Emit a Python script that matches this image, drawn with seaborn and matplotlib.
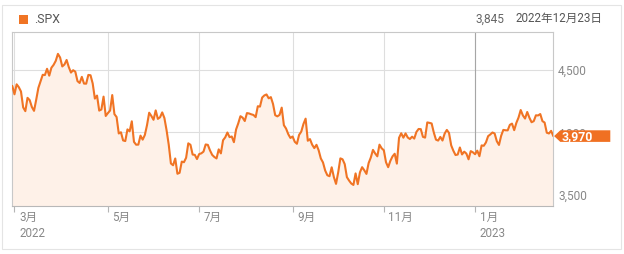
import matplotlib
matplotlib.use("Agg")
import matplotlib.pyplot as plt
import seaborn as sns
import pandas as pd
import numpy as np
from matplotlib.patches import Polygon, Rectangle
from matplotlib.transforms import IdentityTransform

# ---------------- data ----------------
ticker = ".SPX"
hover_value = "3,845"
hover_date = "2022年12月23日"
holidays = ["2022-04-15", "2022-05-30", "2022-06-20", "2022-07-04", "2022-09-05",
            "2022-11-24", "2022-12-26", "2023-01-02", "2023-01-16", "2023-02-20"]
start_date, end_date = "2022-02-28", "2023-02-24"

close_feb22 = [4373.94]
close_mar22 = [4306.26, 4386.54, 4363.49, 4328.87, 4201.09, 4170.70, 4277.88, 4259.52, 4204.31,
               4173.11, 4262.45, 4357.86, 4411.67, 4463.12, 4461.18, 4511.61, 4456.24, 4520.16,
               4543.06, 4575.52, 4631.60, 4602.45, 4530.41]
close_apr22 = [4545.86, 4582.64, 4525.12, 4481.15, 4500.21, 4488.28, 4412.53, 4397.45, 4446.59,
               4392.59, 4391.69, 4462.21, 4459.45, 4393.66, 4271.78, 4296.12, 4175.20, 4183.96,
               4287.50, 4131.93]
close_may22 = [4155.38, 4175.48, 4300.17, 4146.87, 4123.34, 3991.24, 4001.05, 3935.18, 3930.08,
               4023.89, 4008.01, 4088.85, 3923.68, 3900.79, 3901.36, 3973.75, 3941.48, 3978.73,
               4057.84, 4158.24, 4132.15]
close_jun22 = [4101.23, 4176.82, 4108.54, 4121.43, 4160.68, 4115.77, 4017.82, 3900.86, 3749.63,
               3735.48, 3789.99, 3666.77, 3674.84, 3764.79, 3759.89, 3795.73, 3911.74, 3900.11,
               3821.55, 3818.83, 3785.38]
close_jul22 = [3825.33, 3831.39, 3845.08, 3902.62, 3899.38, 3854.43, 3818.80, 3801.78, 3790.38,
               3863.16, 3830.85, 3936.69, 3959.90, 3998.95, 3961.63, 3966.84, 3921.05, 4023.61,
               4072.43, 4130.29]
close_aug22 = [4118.63, 4091.19, 4155.17, 4151.94, 4145.19, 4140.06, 4122.47, 4210.24, 4207.27,
               4280.15, 4297.14, 4305.20, 4274.04, 4283.74, 4228.48, 4137.99, 4128.73, 4140.77,
               4199.12, 4057.66, 4030.61, 3986.16, 3955.00]
close_sep22 = [3966.85, 3924.26, 3908.19, 3979.87, 4006.18, 4067.36, 4110.41, 3932.69, 3946.01,
               3901.35, 3873.33, 3899.89, 3855.93, 3789.93, 3757.99, 3693.23, 3655.04, 3647.29,
               3719.04, 3640.47, 3585.62]
close_oct22 = [3678.43, 3790.93, 3783.28, 3744.52, 3639.66, 3612.39, 3588.84, 3577.03, 3669.91,
               3583.07, 3677.95, 3719.98, 3695.16, 3665.78, 3752.75, 3797.34, 3859.11, 3830.60,
               3807.30, 3901.06, 3871.98]
close_nov22 = [3856.10, 3759.69, 3719.89, 3770.55, 3806.80, 3828.11, 3748.57, 3956.37, 3992.93,
               3957.25, 3991.73, 3958.79, 3946.56, 3965.34, 3949.94, 4003.58, 4027.26, 4026.12,
               3963.94, 3957.63, 4080.11]
close_dec22 = [4076.57, 4071.70, 3998.84, 3941.26, 3933.92, 3963.51, 3934.38, 3990.56, 4019.65,
               3995.32, 3895.75, 3852.36, 3817.66, 3821.62, 3878.44, 3822.39, 3844.82, 3829.25,
               3783.22, 3849.28, 3839.50]
close_jan23 = [3824.14, 3852.97, 3808.10, 3895.08, 3892.09, 3919.25, 3969.61, 3983.17, 3999.09,
               3990.97, 3928.86, 3898.85, 3972.61, 4019.81, 4016.95, 4016.22, 4060.43, 4070.56,
               4017.77, 4076.60]
close_feb23 = [4119.21, 4179.76, 4136.48, 4111.08, 4164.00, 4117.86, 4081.50, 4090.46, 4137.29,
               4136.13, 4147.60, 4090.41, 4079.09, 3997.34, 3991.05, 4012.32, 3970.04]

y_ticks = [3500, 4000, 4500]
label_months = [3, 5, 7, 9, 11, 1]

# ---------------- build ----------------
close = (close_feb22 + close_mar22 + close_apr22 + close_may22 + close_jun22 + close_jul22 +
         close_aug22 + close_sep22 + close_oct22 + close_nov22 + close_dec22 + close_jan23 +
         close_feb23)
dates = pd.bdate_range(start_date, end_date, freq="C", holidays=holidays)
dates = dates[:len(close)]
df = pd.DataFrame({"idx": np.arange(len(close)), "date": dates, "close": close})

LINE = "#f07424"
FILL = "#fef1e8"
GRID = "#dedede"
AXTXT = "#888888"

sns.set_theme(style="white")
plt.rcParams["font.family"] = ["Roboto", "Noto Sans CJK JP", "DejaVu Sans"]

W, H = 624, 254
fig = plt.figure(figsize=(W / 100, H / 100), dpi=100)
fig.patch.set_facecolor("white")
L, R, T, B = 12.3, 553.3, 31.7, 205.7
ax = fig.add_axes([L / W, 1 - B / H, (R - L) / W, (B - T) / H])

ymin, ymax = 3410, 4810
sns.lineplot(data=df, x="idx", y="close", ax=ax, color=LINE, lw=1.5, zorder=4)
ax.fill_between(df["idx"], df["close"], ymin, color=FILL, lw=0, zorder=2)
ax.set_xlim(0, len(df) - 1)
ax.set_ylim(ymin, ymax)
ax.set_xlabel("")
ax.set_ylabel("")

# month ticks (first trading day of labelled months)
first = df[df["date"].dt.month != df["date"].shift(1).dt.month]
first = first[first["date"].dt.month.isin(label_months)]
tick_idx = first["idx"].tolist()
ax.set_xticks(tick_idx)
ax.set_xticklabels([])
ax.tick_params(axis="x", bottom=True, length=4.5, width=0.8, color="#b5b5b5", direction="out")

ax.set_yticks(y_ticks)
ax.set_yticklabels([f"{v:,}" for v in y_ticks])
ax.yaxis.tick_right()
ax.tick_params(axis="y", left=False, right=True, length=0, pad=3.4, labelsize=8.6,
               labelcolor=AXTXT)

ax.grid(True, color=GRID, lw=0.8)
ax.set_axisbelow(True)
for _, r in first.iterrows():
    if r["date"].month == 1:
        ax.axvline(r["idx"], color="#a6a6a6", lw=0.8, zorder=1)

for s in ax.spines.values():
    s.set_color("#c8c8c8")
    s.set_linewidth(0.8)
ax.spines["bottom"].set_color("#b8b8b8")

prev_year = None
for _, r in first.iterrows():
    d = r["date"]
    lab = f"{d.month}月"
    if d.year != prev_year:
        lab += f"\n{d.year}"
        prev_year = d.year
    ax.annotate(lab, xy=(r["idx"], 0), xycoords=("data", "axes fraction"),
                xytext=(3.3, -3.6), textcoords="offset points", ha="left", va="top",
                fontsize=8.4, color=AXTXT, linespacing=1.3)

# header
fig.add_artist(Rectangle((19 / W, 1 - 24.3 / H), 9 / W, 9.5 / H, transform=fig.transFigure,
                         fc=LINE, ec="none"))
fig.text(34.5 / W, 1 - 19.8 / H, ticker, fontsize=8.8, color="#555555", va="center", ha="left")
fig.text(476 / W, 1 - 19.5 / H, hover_value, fontsize=8.6, color="#666666", va="center", ha="left")
fig.text(515 / W, 1 - 18.5 / H, hover_date, fontsize=8.4, color="#555555", va="center", ha="left")

# outer frame
fig.add_artist(Rectangle((1.5 / W, 1 - 248.5 / H), 619.5 / W, 244 / H, transform=fig.transFigure,
                         fill=False, ec="#e4e4e4", lw=0.8))

# last-value tag
x0 = ax.transAxes.transform((1, 0))[0]
yc = ax.transData.transform((0, close[-1]))[1]
tag = Polygon([(x0 + 0.8, yc), (x0 + 7, yc + 5.8), (x0 + 57, yc + 5.8), (x0 + 57, yc - 5.8),
               (x0 + 7, yc - 5.8)], closed=True, fc="#f07022", ec="none",
              transform=IdentityTransform(), zorder=5)
fig.add_artist(tag)
t = fig.text(x0 + 8.5, yc - 0.3, f"{close[-1]:,.0f}", transform=IdentityTransform(),
             fontsize=8.8, color="white", fontweight="bold", va="center", ha="left", zorder=6)

fig.savefig("out.png", dpi=100, facecolor="white")
